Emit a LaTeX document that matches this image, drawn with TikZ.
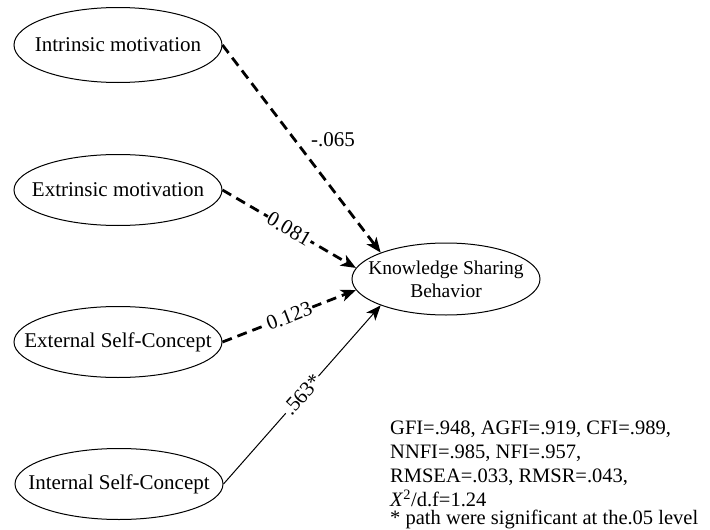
\documentclass[tikz,border=0pt]{standalone}
\usepackage{fontspec}
\setmainfont{Liberation Serif}
\usetikzlibrary{shapes.geometric,arrows.meta}
\tikzset{
  var/.style={draw, ellipse, line width=1pt, inner xsep=-25pt, inner ysep=0pt, minimum width=208pt, minimum height=71pt, font=\fontsize{21}{25}\selectfont},
  dpath/.style={line width=2.8pt, dash pattern=on 10pt off 6pt, -{Stealth[length=15pt,width=12pt,inset=4pt]}},
  spath/.style={line width=1pt, -{Stealth[length=15pt,width=12pt,inset=4pt]}},
  coef/.style={font=\fontsize{21}{25}\selectfont, inner sep=1pt},
}
\begin{document}
\begin{tikzpicture}[x=1pt,y=-1pt]
\useasboundingbox (0,0) rectangle (710,530);
\node[var, minimum height=75pt] (im) at (118,45) {Intrinsic motivation};
\node[var] (em) at (118,190) {Extrinsic motivation};
\node[var] (es) at (118,342) {External Self-Concept};
\node[var] (is) at (119,484) {Internal Self-Concept};
\node[var, inner xsep=-20pt, minimum width=188pt, minimum height=72pt, align=center, font=\fontsize{19.5}{23}\selectfont] (ksb) at (446,279) {Knowledge Sharing\\Behavior};
\draw[dpath] (im.east) -- (ksb.158);
\draw[dpath] (em.east) -- node[coef, sloped, fill=white] (l2) {0.081} (ksb.173);
\draw[dpath] (es.east) -- node[coef, sloped, fill=white] (l3) {0.123} (ksb.187);
\draw[spath] (is.east) -- node[coef, sloped, fill=white, pos=0.5] (l4) {.563*} (ksb.202);
\node[coef, anchor=west] (l1) at (310,140) {-.065};
\node[anchor=north west, align=left, inner sep=0pt, font=\fontsize{20.5}{24}\selectfont] (fit) at (390,421)
  {GFI=.948, AGFI=.919, CFI=.989,\\NNFI=.985, NFI=.957,\\RMSEA=.033, RMSR=.043,\\\textit{X}\textsuperscript{2}/d.f=1.24\\[-6pt]* path were significant at the.05 level};
\end{tikzpicture}
\end{document}
